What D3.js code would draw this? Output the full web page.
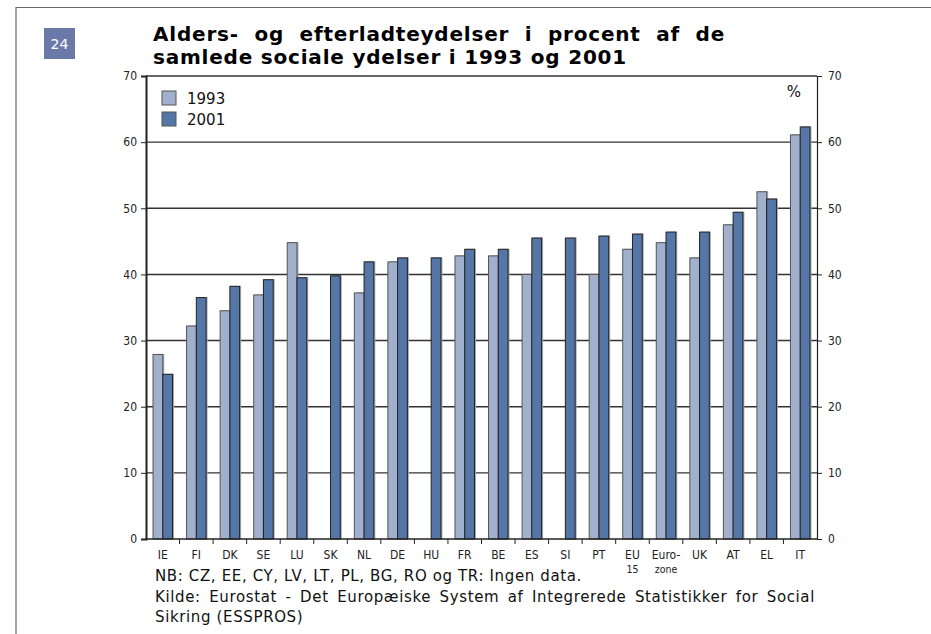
<!DOCTYPE html>
<html>
<head>
<meta charset="utf-8">
<script src="https://cdn.jsdelivr.net/npm/d3@7"></script>
<style>
  body { margin: 0; background: #fff; }
  svg { display: block; }
</style>
</head>
<body>
<svg id="chart" width="931" height="634"></svg>
<script>
// chart data
const categories = ["IE", "FI", "DK", "SE", "LU", "SK", "NL", "DE", "HU", "FR",
  "BE", "ES", "SI", "PT", "EU|15", "Euro-|zone", "UK", "AT", "EL", "IT"];
const values1993 = [27.9, 32.2, 34.5, 36.9, 44.8, null, 37.2, 41.9, null, 42.8,
  42.8, 40.0, null, 40.0, 43.8, 44.8, 42.5, 47.5, 52.5, 61.1];
const values2001 = [24.9, 36.5, 38.2, 39.2, 39.5, 39.8, 41.9, 42.5, 42.5, 43.8,
  43.8, 45.5, 45.5, 45.8, 46.1, 46.4, 46.4, 49.4, 51.4, 62.3];
const seriesNames = ["1993", "2001"];
const yTicks = [0, 10, 20, 30, 40, 50, 60, 70];

const colors = { "1993": "#a0b0cd", "2001": "#5477a8" };
const labelFont = "'DejaVu Sans Condensed', 'DejaVu Sans', sans-serif";
const textFont = "'DejaVu Sans', Verdana, sans-serif";

const svg = d3.select("#chart");
const margin = { left: 146, right: 114, top: 76, bottom: 95 };
const W = 931, H = 634;

// stretch a text to a width: letters = letter-spacing, words = word-spacing
const fitLetters = (sel, width) => {
  const n = sel.text().length;
  const w = sel.node().getComputedTextLength();
  const ls = (width - w) / n;
  sel.attr("letter-spacing", ls);
  return ls;
};
const fitWords = (sel, width) => {
  const n = sel.text().split(" ").length - 1;
  const w = sel.node().getComputedTextLength();
  sel.attr("word-spacing", (width - w) / n);
};

// page frame
svg.append("path")
  .attr("d", "M16 634 V7.5 H931")
  .attr("fill", "none")
  .attr("stroke", "#666")
  .attr("stroke-width", 1.2);

// page number box
svg.append("rect").attr("x", 44).attr("y", 28).attr("width", 31).attr("height", 31)
  .attr("fill", "#6b79a9");
svg.append("text").attr("x", 59.5).attr("y", 49).attr("text-anchor", "middle")
  .attr("fill", "#fff").attr("font-family", textFont).attr("font-size", 14)
  .text("24");

// title
const t1 = svg.append("text").attr("x", 153).attr("y", 40.5)
  .attr("font-family", textFont).attr("font-weight", "bold").attr("font-size", 20)
  .text("Alders- og efterladteydelser i procent af de");
const t2 = svg.append("text").attr("x", 153).attr("y", 63.5)
  .attr("font-family", textFont).attr("font-weight", "bold").attr("font-size", 20)
  .text("samlede sociale ydelser i 1993 og 2001");
const tls = fitLetters(t2, 474);
t1.attr("letter-spacing", tls);
fitWords(t1, 572);

// scales
const x0 = d3.scaleBand()
  .domain(categories)
  .range([margin.left, W - margin.right])
  .padding(0);
const x1 = d3.scaleBand()
  .domain(seriesNames)
  .range([0, x0.bandwidth()])
  .paddingInner(0)
  .paddingOuter(0.72);
const y = d3.scaleLinear().domain([0, 70]).range([H - margin.bottom, margin.top]);

// gridlines
svg.append("g").selectAll("line")
  .data(yTicks.filter(d => d > 0))
  .join("line")
  .attr("x1", margin.left).attr("x2", W - margin.right)
  .attr("y1", d => y(d)).attr("y2", d => y(d))
  .attr("stroke", "#333").attr("stroke-width", 1.4);

// bars
const rows = categories.map((c, i) => ({ cat: c, vals: [
  { key: "1993", v: values1993[i] },
  { key: "2001", v: values2001[i] }
].filter(d => d.v != null) }));

const groups = svg.append("g").selectAll("g")
  .data(rows)
  .join("g")
  .attr("transform", d => `translate(${x0(d.cat)},0)`);

// soft shadow behind bars
groups.selectAll("rect.shadow")
  .data(d => d.vals)
  .join("rect")
  .attr("class", "shadow")
  .attr("x", d => x1(d.key) + 1.5)
  .attr("y", d => y(d.v) - 0.5)
  .attr("width", x1.bandwidth())
  .attr("height", d => y(0) - y(d.v) + 0.5)
  .attr("fill", "#a8a8a8");

groups.selectAll("rect.bar")
  .data(d => d.vals)
  .join("rect")
  .attr("class", "bar")
  .attr("x", d => x1(d.key))
  .attr("y", d => y(d.v))
  .attr("width", x1.bandwidth())
  .attr("height", d => y(0) - y(d.v))
  .attr("fill", d => colors[d.key])
  .attr("stroke", d => d.key === "1993" ? "#555" : "#222")
  .attr("stroke-width", 1);

// axes
const yLeft = d3.axisLeft(y).tickValues(yTicks).tickSize(5).tickPadding(4);
const yRight = d3.axisRight(y).tickValues(yTicks).tickSize(5).tickPadding(6);

const gl = svg.append("g").attr("transform", `translate(${margin.left},0)`).call(yLeft);
const gr = svg.append("g").attr("transform", `translate(${W - margin.right},0)`).call(yRight);
[gl, gr].forEach(g => {
  g.select(".domain").attr("stroke", "#222");
  g.selectAll(".tick line").attr("stroke", "#222");
  g.selectAll("text").attr("font-family", labelFont).attr("font-size", 12).attr("fill", "#222");
});
gl.select(".domain").attr("stroke-width", 2);
gr.select(".domain").attr("stroke-width", 1.2);

// x axis: ticks at the category boundaries
const xAxisG = svg.append("g").attr("transform", `translate(0,${y(0)})`);
xAxisG.append("line")
  .attr("x1", margin.left).attr("x2", W - margin.right)
  .attr("stroke", "#222").attr("stroke-width", 1.4);
xAxisG.selectAll("line.tk")
  .data(categories.slice(1))
  .join("line")
  .attr("class", "tk")
  .attr("x1", d => x0(d)).attr("x2", d => x0(d))
  .attr("y1", 0).attr("y2", 5)
  .attr("stroke", "#222");

xAxisG.selectAll("text.cat")
  .data(categories)
  .join("text")
  .attr("class", "cat")
  .attr("x", d => x0(d) + x0.bandwidth() / 2)
  .attr("y", 20)
  .attr("text-anchor", "middle")
  .attr("font-family", labelFont)
  .attr("font-size", 12)
  .attr("fill", "#222")
  .each(function (d) {
    const parts = d.split("|");
    const t = d3.select(this);
    parts.forEach((p, i) => {
      t.append("tspan")
        .attr("x", x0(d) + x0.bandwidth() / 2)
        .attr("dy", i === 0 ? 0 : 14)
        .attr("font-size", i === 0 ? 12 : 10.5)
        .text(p);
    });
  });

// legend
const legend = svg.append("g").attr("transform", "translate(162,91)");
legend.selectAll("g")
  .data(seriesNames)
  .join("g")
  .attr("transform", (d, i) => `translate(0,${i * 21})`)
  .each(function (d) {
    const g = d3.select(this);
    g.append("rect").attr("width", 14).attr("height", 14)
      .attr("fill", colors[d]).attr("stroke", "#555").attr("stroke-width", 1);
    g.append("text").attr("x", 25).attr("y", 12.5)
      .attr("font-family", textFont).attr("font-size", 15).attr("fill", "#111")
      .text(d);
  });

// unit
svg.append("text").attr("x", 794).attr("y", 97).attr("text-anchor", "middle")
  .attr("font-family", textFont).attr("font-size", 15).attr("fill", "#111")
  .text("%");

// notes
const notes = svg.append("g").attr("font-family", textFont).attr("font-size", 15).attr("fill", "#111");
const n1 = notes.append("text").attr("x", 155).attr("y", 581)
  .text("NB: CZ, EE, CY, LV, LT, PL, BG, RO og TR: Ingen data.");
const n2 = notes.append("text").attr("x", 155).attr("y", 602)
  .text("Kilde: Eurostat - Det Europæiske System af Integrerede Statistikker for Social");
const n3 = notes.append("text").attr("x", 155).attr("y", 622)
  .text("Sikring (ESSPROS)");
const nls = fitLetters(n1, 427);
n2.attr("letter-spacing", nls);
n3.attr("letter-spacing", nls);
fitWords(n2, 660);
</script>
</body>
</html>
